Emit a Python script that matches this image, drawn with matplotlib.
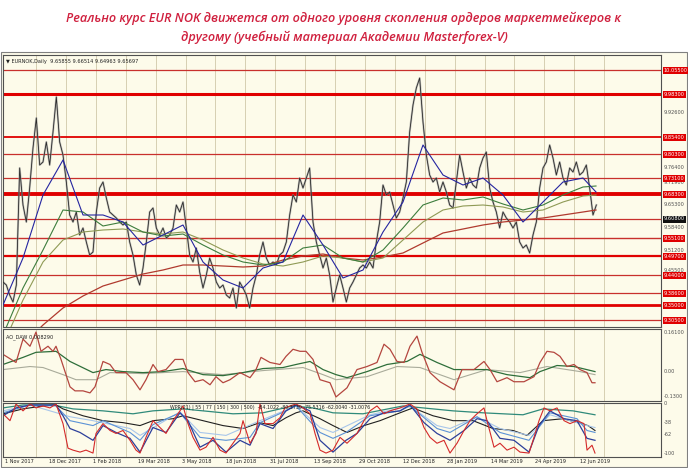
import matplotlib.pyplot as plt
import numpy as np
from matplotlib.patches import Rectangle

# EURNOK daily, closes sampled about every 2.4 trading days (bar index = sample index)
close = [9.419, 9.410, 9.380, 9.359, 9.410, 9.761, 9.650, 9.599, 9.701, 9.821,
         9.911, 9.770, 9.779, 9.839, 9.770, 9.869, 9.974, 9.839, 9.800, 9.719,
         9.620, 9.599, 9.629, 9.560, 9.581, 9.539, 9.500, 9.509, 9.629, 9.701,
         9.719, 9.671, 9.629, 9.620, 9.611, 9.599, 9.590, 9.599, 9.539, 9.500,
         9.440, 9.410, 9.461, 9.539, 9.629, 9.641, 9.581, 9.560, 9.581, 9.551,
         9.560, 9.581, 9.650, 9.629, 9.659, 9.581, 9.500, 9.479, 9.521, 9.449,
         9.401, 9.440, 9.491, 9.461, 9.419, 9.401, 9.410,
         9.380, 9.371, 9.401, 9.341, 9.419, 9.401, 9.380, 9.341, 9.401, 9.440,
         9.500, 9.539, 9.491, 9.470, 9.479, 9.470, 9.500, 9.509, 9.539, 9.620,
         9.680, 9.659, 9.731, 9.701, 9.731, 9.761, 9.599, 9.539, 9.500, 9.461,
         9.491, 9.440, 9.359, 9.401, 9.440, 9.401, 9.359, 9.401, 9.419, 9.440,
         9.461, 9.470, 9.461, 9.479, 9.461, 9.539, 9.599, 9.710, 9.680, 9.689,
         9.650, 9.611, 9.629, 9.671, 9.719, 9.869, 9.950, 10.001, 10.031, 9.899,
         9.800, 9.740, 9.719, 9.731, 9.689, 9.719,
         9.689, 9.650, 9.641, 9.719, 9.800, 9.749, 9.701, 9.731, 9.710, 9.701,
         9.761, 9.791, 9.809, 9.701, 9.659, 9.629, 9.581, 9.629, 9.611, 9.599,
         9.581, 9.599, 9.539, 9.521, 9.530, 9.506, 9.560, 9.599, 9.701, 9.761,
         9.779, 9.830, 9.791, 9.740, 9.779, 9.731, 9.710, 9.761, 9.749, 9.779,
         9.740, 9.749, 9.770, 9.701, 9.620, 9.650]

# moving averages
ma_bar = list(range(0, 175, 6)) + [177.9]
ma_blue = [9.350, 9.491, 9.680, 9.785, 9.620, 9.620, 9.599, 9.530, 9.560, 9.590,
           9.479, 9.425, 9.401, 9.461, 9.479, 9.620, 9.530, 9.431, 9.455, 9.569,
           9.659, 9.830, 9.740, 9.710, 9.731, 9.680, 9.599, 9.659, 9.719, 9.731, 9.689]
ma_green = [9.260, 9.401, 9.515, 9.635, 9.629, 9.587, 9.599, 9.569, 9.557, 9.563,
            9.530, 9.500, 9.479, 9.470, 9.479, 9.521, 9.530, 9.491, 9.479, 9.515,
            9.581, 9.650, 9.671, 9.665, 9.674, 9.653, 9.635, 9.650, 9.680, 9.704, 9.707]
ma_olive = [9.230, 9.365, 9.479, 9.545, 9.569, 9.575, 9.578, 9.569, 9.563, 9.569,
            9.545, 9.515, 9.491, 9.473, 9.467, 9.479, 9.497, 9.491, 9.479, 9.491,
            9.545, 9.599, 9.635, 9.647, 9.650, 9.644, 9.629, 9.635, 9.659, 9.677, 9.680]
ma_red = [9.155, 9.230, 9.290, 9.341, 9.377, 9.407, 9.425, 9.443, 9.455, 9.470,
          9.470, 9.467, 9.464, 9.467, 9.485, 9.497, 9.503, 9.491, 9.485, 9.494,
          9.506, 9.536, 9.566, 9.578, 9.590, 9.599, 9.605, 9.611, 9.620, 9.629, 9.635]

# order-cluster levels (price, line width)
levels = [10.055, 9.983, 9.854, 9.803, 9.731, 9.683, 9.608, 9.551, 9.497, 9.440, 9.386, 9.350, 9.305]
level_w = [0.9, 2.2, 1.3, 0.9, 0.9, 2.8, 0.9, 1.0, 1.6, 0.9, 0.9, 2.0, 0.9]
price_ticks = [9.926, 9.764, 9.719, 9.653, 9.584, 9.512, 9.455]

# oscillator panel
ao_bar = [0, 3.9, 6, 8.1, 9.9, 11.4, 13.5, 15, 15.9, 17.4, 20.1, 21.6, 24, 26.1, 27.6, 30, 32.1, 33.9,
          36.9, 39, 41.1, 42.9, 45, 46.5, 48.9, 51.6, 54, 55.5, 57.6, 60, 62.1, 63.9, 66, 68.1, 71.1,
          74.1, 75.9, 77.4, 80.1, 83.1, 84.9, 87, 89.1, 90.9, 93, 95.1, 98.1, 99.9,
          103.2, 106.2, 109.2, 112.2, 114.3, 116.1, 118.2, 120.3, 122.1, 124.2, 125.7, 128.1, 131.1,
          135.3, 137.7, 141.3, 144.3, 146.1, 148.2, 151.2, 153.3, 156.3, 159.3, 161.1, 163.2, 165.3,
          167.1, 169.2, 171.3, 173.1, 175.2, 176.7, 177.6]
ao_main = [0.068, 0.036, 0.128, 0.100, 0.156, 0.080, 0.100, 0.080, 0.100, 0.048, -0.060, -0.076,
           -0.076, -0.084, -0.060, 0.040, 0.028, -0.004, -0.004, -0.032, -0.072, -0.032, 0.028, 0.000,
           0.008, 0.048, 0.048, -0.004, -0.040, -0.032, -0.052, -0.020, -0.044, -0.032, -0.004, -0.024,
           0.008, 0.056, 0.036, 0.028, 0.060, 0.088, 0.080, 0.080, 0.048, -0.032, -0.044, -0.100,
           -0.064, 0.008, 0.020, 0.036, 0.108, 0.088, 0.040, 0.036, 0.100, 0.140, 0.076, -0.004, -0.040,
           -0.072, 0.008, 0.008, 0.040, 0.008, -0.040, -0.024, -0.040, -0.040, -0.020, 0.036, 0.080,
           0.076, 0.060, 0.020, 0.028, 0.008, -0.004, -0.044, -0.044]
ao_sig_bar = [0, 6, 9.9, 15.9, 20.1, 27, 30.9, 36, 42, 48, 54, 60, 66, 72, 78, 84, 87.9, 92.1, 96, 99.9,
              103.2, 109.2, 115.2, 121.2, 125.1, 130.2, 135.3, 139.2, 145.2, 151.2, 158.1, 161.1,
              166.2, 171.3, 177.6]
ao_sig = [0.028, 0.056, 0.076, 0.080, 0.040, -0.004, 0.008, 0.000, -0.004, 0.000, 0.012, -0.012,
          -0.016, -0.004, 0.012, 0.016, 0.028, 0.040, 0.008, -0.012, -0.024, 0.000, 0.028, 0.040,
          0.068, 0.036, 0.008, 0.008, 0.008, -0.012, -0.024, 0.000, 0.024, 0.020, 0.000]
ao_slow_bar = [0, 8.1, 12, 18, 21.9, 27.9, 32.1, 42, 54, 66, 78, 90, 96, 99.9, 109.2, 118.2, 125.1,
               135.3, 145.2, 155.1, 163.2, 173.1, 177.6]
ao_slow = [0.008, 0.020, 0.016, -0.012, -0.032, -0.032, -0.004, -0.008, 0.000, -0.012, 0.004, 0.016,
           -0.012, -0.032, -0.020, 0.020, 0.016, -0.032, 0.008, -0.004, 0.020, 0.000, -0.012]

# Williams %R panel
wpr_red_bar = [0, 2.1, 3.9, 6, 8.1, 9.9, 12, 14.1, 15.9, 18, 19.5, 21, 23.1, 24.9, 27, 27.9, 30, 32.1,
               33.9, 36, 38.1, 39.9, 41.1, 42.9, 45, 47.1, 48.9, 51, 53.1, 54, 55.5, 57, 59.1, 60.9, 63,
               65.1, 66.9, 69, 71.1, 72, 74.1, 75.9, 77.1, 78.6, 81, 83.1, 84.6, 86.1, 87.9, 90, 92.1,
               93.6, 95.1, 96.9, 99, 101.1,
               103.2, 106.2, 108.3, 110.1, 112.2, 114.3, 116.1, 119.1, 122.1, 124.2, 126.3, 128.1, 130.2,
               132.3, 134.1, 136.2, 138.3, 140.1, 142.2, 144.3, 145.2, 147.3, 149.1, 151.2, 153.3, 155.1,
               157.8, 159.3, 160.8, 162.3, 164.1, 166.2, 168.3, 170.1, 172.2, 174.3, 175.2, 176.7, 177.6]
wpr_red = [-20, -34, 0, -14, 0, -8, -4, -8, 0, -40, -90, -94, -98, -94, -100, -60, -40, -54, -60, -54,
           -74, -94, -100, -68, -34, -48, -60, -34, -14, -4, -40, -68, -94, -88, -68, -94, -100, -80,
           -60, -34, -80, -60, 0, -40, -40, -28, -8, -4, 0, -8, -20, -60, -94, -100, -94, -68,
           -80, -60, -34, -14, -4, -20, -14, -8, 0, -10, -48, -68, -80, -74, -100, -80, -54, -34, -20,
           -8, -34, -88, -80, -94, -88, -98, -100, -68, -34, -8, -14, -8, -34, -40, -34, -40, -94, -84, -100]
wpr_blue_bar = [0, 3.9, 8.1, 15.9, 18, 20.1, 23.1, 27, 30, 33.9, 38.1, 41.1, 45, 48.9, 53.1, 55.5, 59.1,
                63, 66.9, 71.1, 74.1, 77.1, 81, 84.9, 87.9, 92.1, 95.1, 99, 102.9, 106.2, 110.1, 114.3,
                119.1, 122.1, 126.3, 130.2, 134.1, 138.3, 142.2, 145.2, 149.1, 153.3, 157.8, 160.8,
                164.1, 168.3, 172.2, 175.2, 177.6]
wpr_blue = [-24, -8, -2, -2, -24, -50, -58, -74, -44, -58, -70, -98, -48, -58, -18, -34, -88, -74, -98,
            -74, -84, -40, -50, -14, -2, -14, -74, -98, -74, -60, -30, -18, -14, -2, -38, -60, -74,
            -54, -30, -34, -70, -74, -98, -44, -14, -30, -34, -70, -74]
wpr_lblue_bar = [0, 8.1, 15.9, 20.1, 27, 30, 38.1, 41.1, 45, 53.1, 59.1, 66.9, 74.1, 77.1, 84.9, 87.9,
                 95.1, 99, 102.9, 110.1, 119.1, 122.1, 130.2, 134.1, 142.2, 149.1, 157.8, 164.1,
                 172.2, 175.2, 177.6]
wpr_lblue = [-18, -2, -4, -34, -44, -34, -58, -74, -42, -18, -68, -74, -68, -38, -14, -4, -58, -70,
             -58, -24, -14, -4, -50, -58, -26, -58, -74, -18, -30, -54, -58]
wpr_pale_bar = [0, 8.1, 20.1, 27, 38.1, 41.1, 53.1, 59.1, 66.9, 77.1, 87.9, 95.1, 99, 110.1, 122.1,
                130.2, 134.1, 142.2, 149.1, 157.8, 164.1, 175.2, 177.6]
wpr_pale = [-14, -2, -26, -34, -50, -64, -16, -58, -64, -34, -4, -48, -58, -22, -4, -44, -50, -26,
            -50, -64, -22, -44, -48]
wpr_black_bar = [0, 6, 12, 15.9, 18, 24, 30, 36, 41.1, 45, 51, 54, 60, 66, 72, 77.1, 81, 84.9, 87.9,
                 90, 95.1, 99, 103.2, 108.3, 113.1, 119.1, 123, 129, 135, 141, 147, 153, 157.2, 162,
                 168, 172.5, 175.5, 177.6]
wpr_black = [-20, -10, -4, -2, -10, -24, -34, -38, -44, -34, -30, -24, -34, -44, -50, -38, -44, -28,
             -18, -14, -30, -44, -58, -44, -34, -18, -8, -24, -34, -34, -50, -54, -64, -34, -30, -38,
             -44, -54]
wpr_teal_bar = [0, 6, 15, 21, 30, 39, 45, 54, 60, 69, 78, 87, 93, 99, 108, 120, 126, 135, 144, 156,
                162, 171, 177.6]
wpr_teal = [-8, -2, -2, -10, -14, -20, -14, -10, -14, -20, -18, -4, -8, -18, -20, -4, -8, -14, -18,
            -22, -10, -14, -22]

dates = ['1 Nov 2017', '18 Dec 2017', '1 Feb 2018', '19 Mar 2018', '3 May 2018', '18 Jun 2018',
         '31 Jul 2018', '13 Sep 2018', '29 Oct 2018', '12 Dec 2018', '28 Jan 2019', '14 Mar 2019',
         '24 Apr 2019', '12 Jun 2019']

bg = '#fdfbea'
grid_c = '#d6cfb2'
W, H = 688, 468
fig = plt.figure(figsize=(W / 100, H / 100), dpi=100, facecolor='white')
frame = Rectangle((1 / W, 1 / H), 686 / W, 1 - 53 / H, transform=fig.transFigure,
                  facecolor=bg, edgecolor='#808080', lw=0.8, zorder=-5)
fig.patches.append(frame)

title = ('Реально курс EUR NOK движется от одного уровня скопления ордеров маркетмейкеров к\n'
         'другому (учебный материал Академии Masterforex-V)')
fig.text(0.5, 1 - 27.5 / H, title, ha='center', va='center', color='#d0213f', fontsize=9.1,
         style='italic', weight='semibold', family=['Open Sans', 'DejaVu Sans'], linespacing=1.55)


def panel(top, bottom):
    a = fig.add_axes([3 / W, 1 - bottom / H, 658 / W, (bottom - top) / H])
    a.set_facecolor(bg)
    a.set_xlim(0, 197.4)
    for s in a.spines.values():
        s.set_color('#505050')
        s.set_linewidth(0.8)
    a.set_xticks([])
    a.set_yticks([])
    for i in range(20):
        a.axvline(9.9 + 8.97 * i, color=grid_c, lw=0.7, zorder=0)
    return a


ax = panel(55, 327)
ax1 = panel(329, 401)
ax2 = panel(403, 457)

# main price chart
ax.set_ylim(9.284, 10.100)
bars = np.arange(len(close))
for lv, w in zip(levels, level_w):
    ax.axhline(lv, color='#e00000' if w > 1.2 else '#c8302c', lw=w, zorder=1)
ax.plot(bars, close, color='#9a9a9a', lw=1.5, alpha=0.6, zorder=2)
ax.plot(bars, close, color='#2a2a2a', lw=0.6, zorder=3)
ax.plot(ma_bar, ma_red, color='#b03a2e', lw=0.9, zorder=4)
ax.plot(ma_bar, ma_olive, color='#8f9a55', lw=0.8, zorder=4)
ax.plot(ma_bar, ma_green, color='#3d7d3d', lw=0.8, zorder=4)
ax.plot(ma_bar, ma_blue, color='#2525a0', lw=0.8, zorder=5)
ax.text(0.004, 0.985, '▼ EURNOK,Daily  9.65855 9.66514 9.64963 9.65697', transform=ax.transAxes,
        fontsize=3.6, va='top', ha='left', color='#202020')

ytr = ax.get_yaxis_transform()
for t in price_ticks:
    ax.text(1.004, t, '%.5f' % t, transform=ytr, fontsize=3.6, color='#505050', va='center',
            ha='left', clip_on=False)
for lv in levels:
    fc = '#111111' if lv == 9.608 else '#e00000'
    ax.text(1.004, lv, '%.5f' % lv, transform=ytr, fontsize=3.6, color='white', va='center',
            ha='left', clip_on=False, zorder=6,
            bbox=dict(boxstyle='square,pad=0.2', fc=fc, ec='none'))

# oscillator
ax1.set_ylim(-0.116, 0.168)
ax1.plot(ao_slow_bar, ao_slow, color='#a9ab9a', lw=0.8)
ax1.plot(ao_sig_bar, ao_sig, color='#2e6e3a', lw=0.9)
ax1.plot(ao_bar, ao_main, color='#b4463f', lw=0.9)
ax1.text(0.004, 0.93, 'AO_DAW 0.008290', transform=ax1.transAxes, fontsize=3.6, va='top',
         color='#202020')
y1 = ax1.get_yaxis_transform()
for v, s in [(0.156, '0.16100'), (0.0, '0.00'), (-0.1, '-0.1300')]:
    ax1.text(1.004, v, s, transform=y1, fontsize=3.6, color='#505050', va='center', clip_on=False)

# Williams %R family
ax2.set_ylim(-108, 2)
ax2.plot(wpr_teal_bar, wpr_teal, color='#2f8a7a', lw=0.9)
ax2.plot(wpr_black_bar, wpr_black, color='#202020', lw=0.8)
ax2.plot(wpr_pale_bar, wpr_pale, color='#a8c6ea', lw=0.8)
ax2.plot(wpr_lblue_bar, wpr_lblue, color='#5b92d6', lw=0.8)
ax2.plot(wpr_blue_bar, wpr_blue, color='#2c3f9a', lw=0.9)
ax2.plot(wpr_red_bar, wpr_red, color='#d42a2a', lw=0.8)
ax2.text(50, -1.5, 'WPR(21) | 55 | 77 | 150 | 300 | 500)  -84.1022 -80.3730 -75.5316 -62.0040 -31.0076',
         fontsize=3.4, va='top', color='#202020')
y2 = ax2.get_yaxis_transform()
for v in [0, -38, -62, -100]:
    ax2.text(1.004, v, str(v), transform=y2, fontsize=3.6, color='#505050', va='center', clip_on=False)

date_pos = 0.6 + 13.26 * np.arange(len(dates))
ax2.set_xticks(date_pos)
ax2.set_xticklabels(dates, fontsize=3.6, ha='left', color='#202020')
ax2.tick_params(axis='x', length=0, pad=1.5)

fig.savefig('out.png', dpi=100, facecolor='white')
